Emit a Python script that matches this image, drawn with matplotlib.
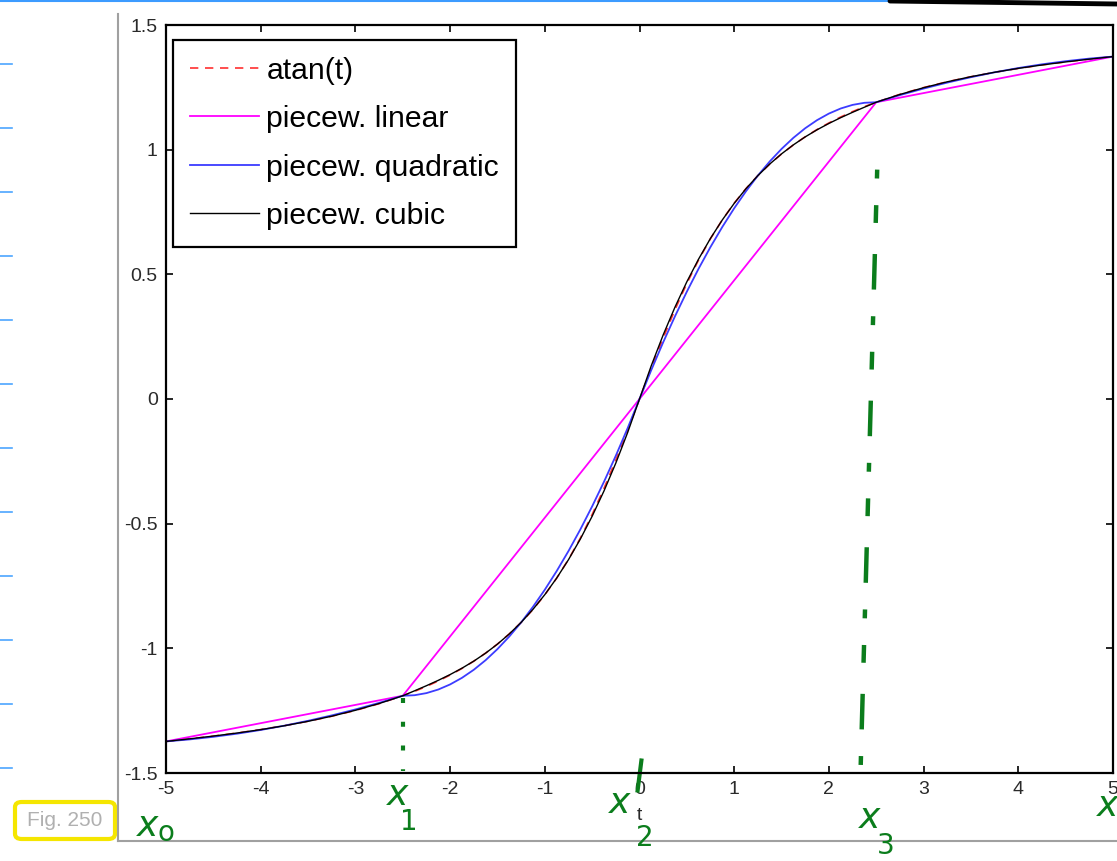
import numpy as np
import matplotlib.pyplot as plt
from matplotlib.lines import Line2D
from matplotlib.patches import FancyBboxPatch

# sample points of the curves for t >= 0 (left half is odd-symmetric)
t_half = [0, 0.125, 0.25, 0.375, 0.5, 0.625, 0.75, 0.875, 1.0, 1.125, 1.25, 1.375, 1.5,
          1.625, 1.75, 1.875, 2.0, 2.125, 2.25, 2.375, 2.5,
          2.75, 3.0, 3.25, 3.5, 3.75, 4.0, 4.25, 4.5, 4.75, 5.0]
atan_half = [0, 0.1244, 0.2450, 0.3588, 0.4636, 0.5586, 0.6435, 0.7188, 0.7854, 0.8442, 0.8961,
             0.9421, 0.9828, 1.0191, 1.0517, 1.0808, 1.1071, 1.1310, 1.1526, 1.1726, 1.1903,
             1.2220, 1.2490, 1.2723, 1.2925, 1.3102, 1.3258, 1.3397, 1.3521, 1.3633, 1.3734]
quad_half = [0, 0.1167, 0.2274, 0.3320, 0.4306, 0.5233, 0.6099, 0.6904, 0.7650, 0.8335, 0.8961,
             0.9526, 1.0030, 1.0475, 1.0860, 1.1184, 1.1448, 1.1652, 1.1796, 1.1880, 1.1903,
             1.2188, 1.2451, 1.2690, 1.2907, 1.3102, 1.3274, 1.3423, 1.3549, 1.3653, 1.3734]
cub_half = [0, 0.1343, 0.2570, 0.3688, 0.4702, 0.5619, 0.6445, 0.7185, 0.7847, 0.8437, 0.8960,
            0.9423, 0.9832, 1.0193, 1.0513, 1.0797, 1.1052, 1.1284, 1.1499, 1.1703, 1.1903,
            1.2214, 1.2485, 1.2722, 1.2927, 1.3105, 1.3261, 1.3397, 1.3519, 1.3630, 1.3734]
# nodes of the piecewise linear interpolant
t_nodes = [-5, -2.5, 0, 2.5, 5]
y_nodes = [-1.3734, -1.1903, 0, 1.1903, 1.3734]

t = [-v for v in t_half[:0:-1]] + t_half
atan_y = [-v for v in atan_half[:0:-1]] + atan_half
quad_y = [-v for v in quad_half[:0:-1]] + quad_half
cub_y = [-v for v in cub_half[:0:-1]] + cub_half

W, H = 1117, 861
fig = plt.figure(figsize=(W / 100, H / 100), dpi=100)
plt.rcParams['font.family'] = ['Liberation Sans', 'DejaVu Sans']

def fx(px):
    return px / W

def fy(py):
    return 1 - py / H

# page decorations
fig.add_artist(Line2D([0, fx(905)], [fy(1), fy(1)], color='#3d9bff', lw=1.5))
fig.add_artist(Line2D([fx(890), 1.0], [fy(1), fy(4)], color='black', lw=3.5, solid_capstyle='round'))
for py in range(64, 800, 64):
    fig.add_artist(Line2D([0, fx(12)], [fy(py), fy(py)], color='#4da6ff', lw=1.2))
fig.add_artist(Line2D([fx(118), fx(118)], [fy(14), fy(841)], color='#a0a0a0', lw=1.5))
fig.add_artist(Line2D([fx(118), 1.0], [fy(841), fy(841)], color='#a0a0a0', lw=1.5))

box = FancyBboxPatch((fx(15), fy(839)), fx(100), fy(802) - fy(839),
                     boxstyle='round,pad=0,rounding_size=0.006', transform=fig.transFigure,
                     facecolor='white', edgecolor='#f5e600', lw=3)
fig.add_artist(box)
fig.text(fx(65), fy(820), 'Fig. 250', color='#b0b0b0', fontsize=15, ha='center', va='center')

ax = fig.add_axes([fx(166), fy(773), fx(1113) - fx(166), fy(25) - fy(773)])

ax.plot(t, atan_y, color='#ff3030', ls=(0, (5, 4)), lw=1.2, label='atan(t)')
ax.plot(t_nodes, y_nodes, color='#ff00ff', lw=1.3, label='piecew. linear')
ax.plot(t, quad_y, color='#3c3cff', lw=1.3, label='piecew. quadratic')
ax.plot(t, cub_y, color='black', lw=1.0, label='piecew. cubic')

ax.set_xlim(-5, 5)
ax.set_ylim(-1.5, 1.5)
ax.set_xticks(range(-5, 6))
ax.set_yticks([-1.5, -1, -0.5, 0, 0.5, 1, 1.5])
ax.set_xticklabels([str(v) for v in range(-5, 6)])
ax.set_yticklabels(['-1.5', '-1', '-0.5', '0', '0.5', '1', '1.5'])
ax.tick_params(direction='in', length=5, width=1.2, top=True, right=True,
               labelsize=14, labelcolor='#2a2a2a', pad=6)
for s in ax.spines.values():
    s.set_linewidth(1.6)
ax.set_xlabel('t', fontsize=14, color='#2a2a2a', labelpad=6)

leg = ax.legend(loc='upper left', bbox_to_anchor=(0.0074, 0.980), borderaxespad=0,
                fontsize=21.7, handlelength=2.3, handletextpad=0.25, labelspacing=0.68,
                borderpad=0.55, fancybox=False, edgecolor='black', framealpha=1)
leg.get_frame().set_linewidth(1.6)

# green handwritten annotations
g = '#0b7d1c'
ax.plot([-2.5, -2.5], [-1.2, -1.49], color=g, lw=3, ls=(0, (1.2, 4.5)), clip_on=False)
ax.plot([2.51, 2.33], [0.92, -1.55], color=g, lw=3.2, ls=(0, (2, 6, 4, 7, 8, 6)), clip_on=False)
ax.plot([0.02, -0.02], [-1.45, -1.57], color=g, lw=3, clip_on=False)

hand = dict(color=g, fontsize=26, ha='center', va='center', fontstyle='italic', family='DejaVu Sans')
sub = dict(color=g, fontsize=20, ha='center', va='center', family='DejaVu Sans')
fig.text(fx(148), fy(826), 'x', **hand)
fig.text(fx(166), fy(833), 'o', **sub)
fig.text(fx(398), fy(795), 'x', **hand)
fig.text(fx(409), fy(822), '1', **sub)
fig.text(fx(620), fy(803), 'x', **hand)
fig.text(fx(645), fy(838), '2', **sub)
fig.text(fx(870), fy(818), 'x', **hand)
fig.text(fx(886), fy(846), '3', **sub)
fig.text(fx(1108), fy(806), 'x', **hand)

fig.savefig('out.png', dpi=100)
